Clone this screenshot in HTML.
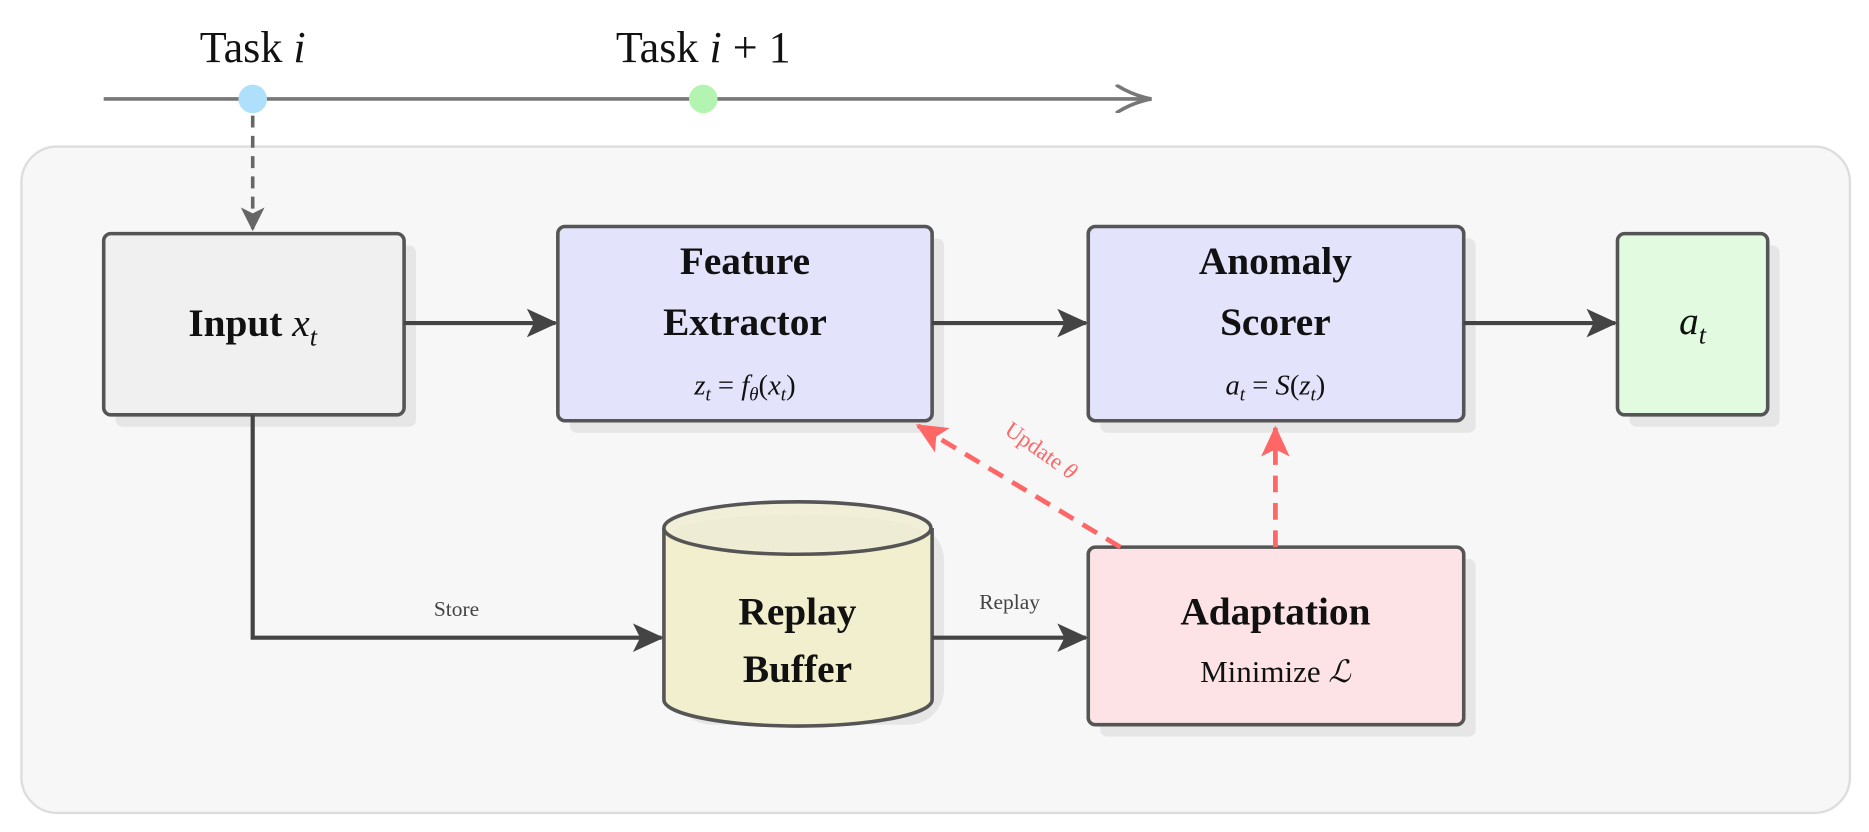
<!DOCTYPE html>
<html><head><meta charset="utf-8"><style>
html,body{margin:0;padding:0;background:#fff}
svg{display:block}
text{font-family:"Liberation Serif",serif;fill:#111}
.b{font-weight:bold;font-size:33px}
.m{font-size:24px}
</style></head><body>
<svg width="1869" height="832" viewBox="0 0 1568 698" xmlns="http://www.w3.org/2000/svg">
<defs>
<marker id="ag" markerWidth="34" markerHeight="24" refX="30" refY="12" orient="auto" markerUnits="userSpaceOnUse"><path d="M0,0 Q14,9 30,12 Q14,15 0,24" fill="none" stroke="#777" stroke-width="3"/></marker>
<marker id="ad" markerWidth="28" markerHeight="24" refX="24" refY="12" orient="auto" markerUnits="userSpaceOnUse"><path d="M0,0 L26,12 L0,24 L6,12 Z" fill="#444"/></marker>
<marker id="ar" markerWidth="28" markerHeight="24" refX="24" refY="12" orient="auto" markerUnits="userSpaceOnUse"><path d="M0,0 L26,12 L0,24 L6,12 Z" fill="#f66"/></marker>
<marker id="adg" markerWidth="20" markerHeight="24" refX="18" refY="10" orient="auto" markerUnits="userSpaceOnUse"><path d="M0,0 L20,10 L0,20 L5,10 Z" fill="#666"/></marker>
</defs>
<rect x="18" y="123" width="1534" height="559" rx="30" fill="#f7f7f7" stroke="#ddd" stroke-width="2"/>
<line x1="87" y1="83" x2="966" y2="83" stroke="#777" stroke-width="3" marker-end="url(#ag)"/>
<circle cx="212" cy="83" r="12" fill="#aee0fb"/>
<circle cx="590" cy="83" r="12" fill="#b3f5b0"/>
<text x="212" y="52" font-size="37" text-anchor="middle">Task <tspan font-style="italic">i</tspan></text>
<text x="590" y="52" font-size="37" text-anchor="middle">Task <tspan font-style="italic">i</tspan> + 1</text>
<line x1="212" y1="97" x2="212" y2="192" stroke="#666" stroke-width="3" stroke-dasharray="10,7" marker-end="url(#adg)"/>
<g fill="#e6e6e6">
<rect x="97" y="206" width="252" height="152" rx="6"/>
<rect x="478" y="200" width="314" height="163" rx="6"/>
<rect x="923" y="200" width="315" height="163" rx="6"/>
<rect x="1367" y="206" width="126" height="152" rx="6"/>
<rect x="923" y="469" width="315" height="149" rx="6"/>
<rect x="567" y="440" width="225" height="168" rx="30"/>
</g>
<rect x="87" y="196" width="252" height="152" rx="6" fill="#f0f0f0" stroke="#555" stroke-width="3"/>
<rect x="468" y="190" width="314" height="163" rx="6" fill="#e3e3fb" stroke="#555" stroke-width="3"/>
<rect x="913" y="190" width="315" height="163" rx="6" fill="#e3e3fb" stroke="#555" stroke-width="3"/>
<rect x="1357" y="196" width="126" height="152" rx="6" fill="#e2fbe0" stroke="#555" stroke-width="3"/>
<rect x="913" y="459" width="315" height="149" rx="6" fill="#fde3e6" stroke="#555" stroke-width="3"/>
<path d="M557,443 L557,587 A112,22 0 0 0 782,587 L782,443" fill="#f1efcd" stroke="#555" stroke-width="3"/>
<ellipse cx="669" cy="443" rx="112" ry="22" fill="#f1efd8" stroke="#555" stroke-width="3"/>
<ellipse cx="669" cy="447" rx="104" ry="15" fill="#eeecd4"/>
<g stroke="#444" stroke-width="3.5" fill="none">
<line x1="339" y1="271" x2="466" y2="271" marker-end="url(#ad)"/>
<line x1="782" y1="271" x2="911" y2="271" marker-end="url(#ad)"/>
<line x1="1228" y1="271" x2="1355" y2="271" marker-end="url(#ad)"/>
<polyline points="212,348 212,535 555,535" marker-end="url(#ad)"/>
<line x1="782" y1="535" x2="911" y2="535" marker-end="url(#ad)"/>
</g>
<g stroke="#f66" stroke-width="4" fill="none" stroke-dasharray="14,9">
<line x1="940" y1="459" x2="770" y2="357" marker-end="url(#ar)"/>
<line x1="1070" y1="459" x2="1070" y2="359" marker-end="url(#ar)"/>
</g>
<text transform="translate(870,383) rotate(35)" font-size="19" style="fill:#f66" text-anchor="middle">Update <tspan font-style="italic">θ</tspan></text>
<text x="383" y="517" font-size="18" text-anchor="middle" style="fill:#444">Store</text>
<text x="847" y="511" font-size="18" text-anchor="middle" style="fill:#444">Replay</text>
<text x="212" y="282" class="b" text-anchor="middle">Input <tspan font-style="italic" font-weight="normal">x</tspan><tspan font-style="italic" font-weight="normal" font-size="22" dy="8">t</tspan></text>
<text x="625" y="230" class="b" text-anchor="middle">Feature</text>
<text x="625" y="281" class="b" text-anchor="middle">Extractor</text>
<text x="625" y="331" class="m" text-anchor="middle"><tspan font-style="italic">z</tspan><tspan font-size="16" font-style="italic" dy="5">t</tspan><tspan dy="-5"> = </tspan><tspan font-style="italic">f</tspan><tspan font-size="16" font-style="italic" dy="5">θ</tspan><tspan dy="-5">(</tspan><tspan font-style="italic">x</tspan><tspan font-size="16" font-style="italic" dy="5">t</tspan><tspan dy="-5">)</tspan></text>
<text x="1070" y="230" class="b" text-anchor="middle">Anomaly</text>
<text x="1070" y="281" class="b" text-anchor="middle">Scorer</text>
<text x="1070" y="331" class="m" text-anchor="middle"><tspan font-style="italic">a</tspan><tspan font-size="16" font-style="italic" dy="5">t</tspan><tspan dy="-5"> = </tspan><tspan font-style="italic">S</tspan>(<tspan font-style="italic">z</tspan><tspan font-size="16" font-style="italic" dy="5">t</tspan><tspan dy="-5">)</tspan></text>
<text x="1420" y="280" font-size="33" text-anchor="middle"><tspan font-style="italic">a</tspan><tspan font-style="italic" font-size="22" dy="8">t</tspan></text>
<text x="669" y="524" class="b" text-anchor="middle">Replay</text>
<text x="669" y="572" class="b" text-anchor="middle">Buffer</text>
<text x="1070" y="524" class="b" text-anchor="middle">Adaptation</text>
<text x="1070" y="572" font-size="26" text-anchor="middle">Minimize <tspan font-style="italic">ℒ</tspan></text>
</svg>
</body></html>
